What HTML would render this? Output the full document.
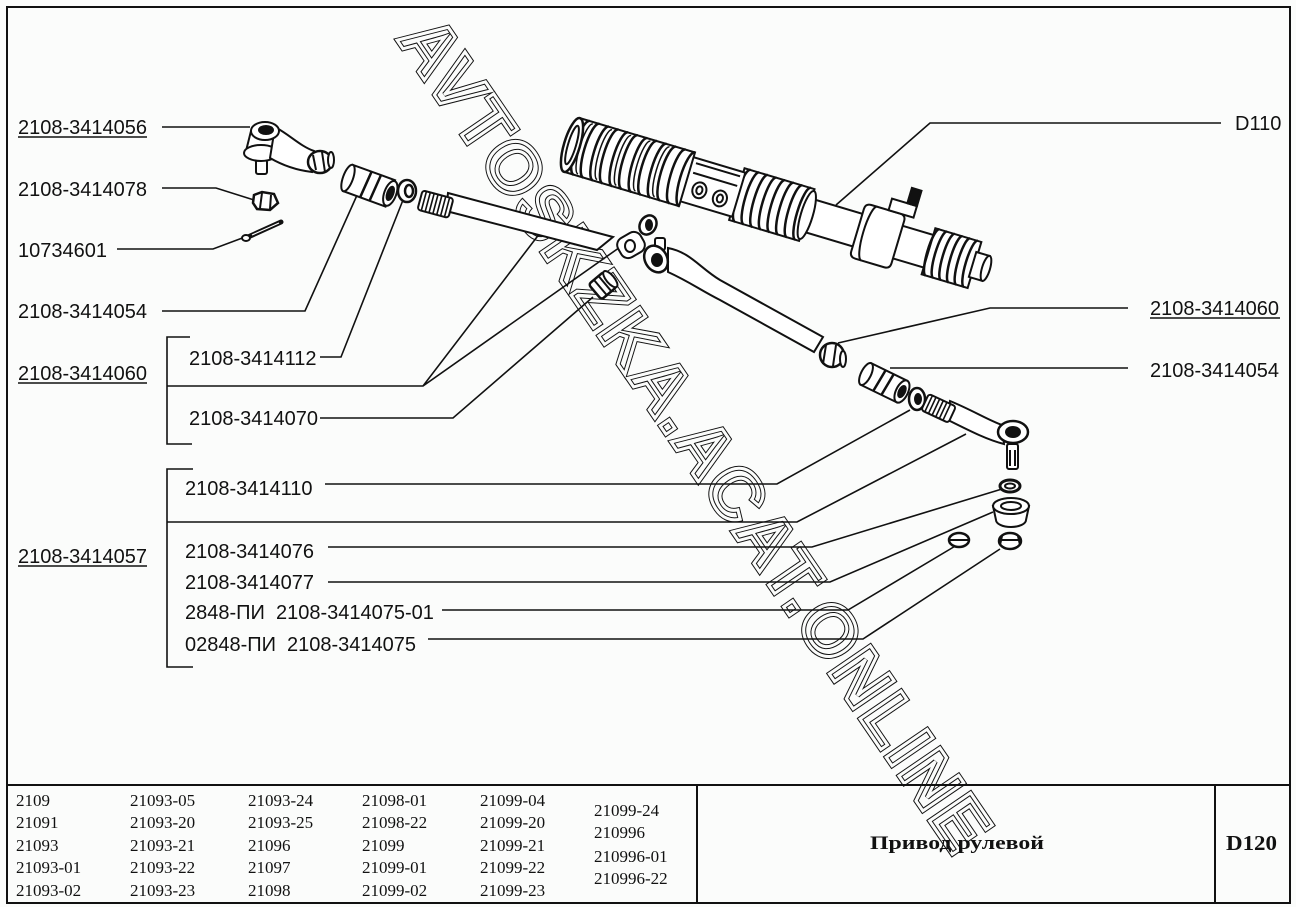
<!DOCTYPE html>
<html><head><meta charset="utf-8"><style>
html,body{margin:0;padding:0;background:#fbfcfb;}
svg{display:block}
.l{font-family:"Liberation Sans",Arial,sans-serif;font-size:20px;fill:#111}
.t{font-family:"Liberation Serif","Times New Roman",serif;font-size:17px;fill:#111}
.b{font-family:"Liberation Serif","Times New Roman",serif;font-weight:bold;fill:#111}
</style></head><body>
<svg width="1296" height="907" viewBox="0 0 1296 907" xmlns="http://www.w3.org/2000/svg">
<rect width="1296" height="907" fill="#fbfcfb"/>

<!-- watermark -->
<g transform="translate(696.5,433) rotate(55.7)" font-family="Liberation Sans, Arial, sans-serif" font-weight="bold" font-size="72">
  <text x="0" y="26" text-anchor="middle" textLength="990" lengthAdjust="spacing" fill="none" stroke="#111" stroke-width="5" stroke-linejoin="miter">AVTOSKZKA.ACAT.ONLINE</text>
  <text x="0" y="26" text-anchor="middle" textLength="990" lengthAdjust="spacing" fill="none" stroke="#fbfcfb" stroke-width="3" stroke-linejoin="miter">AVTOSKZKA.ACAT.ONLINE</text>
</g>

<!-- frame -->
<g stroke="#111" fill="none" stroke-width="2">
  <rect x="7" y="7" width="1283" height="896"/>
  <path d="M7,785 H1290 M697,785 V903 M1215,785 V903"/>
</g>

<!-- leader lines -->
<g stroke="#111" fill="none" stroke-width="1.6">
  <path d="M162,127 H250"/>
  <path d="M162,188 H216 L254,200"/>
  <path d="M117,249 H213 L245,237"/>
  <path d="M162,311 H305 L358,193"/>
  <path d="M190,337 H167 V444 H192"/>
  <path d="M167,386 H423 L540,233 M423,386 L623,245"/>
  <path d="M320,357 H341 L403,200"/>
  <path d="M320,418 H453 L593,297"/>
  <path d="M193,469 H167 V667 H193"/>
  <path d="M325,484 H777 L910,410"/>
  <path d="M167,522 H797 L966,434"/>
  <path d="M328,547 H812 L1002,489"/>
  <path d="M328,582 H830 L993,512"/>
  <path d="M442,610 H848 L957,545"/>
  <path d="M428,639 H863 L1000,549"/>
  <path d="M1221,123 H930 L836,205"/>
  <path d="M1128,308 H990 L838,343"/>
  <path d="M1128,368 H890"/>
</g>

<!-- steering rack -->
<g transform="translate(572,145) rotate(16.6)" stroke="#111" stroke-width="2" fill="#fff">
  <rect x="240" y="-17" width="135" height="34"/>
  <!-- end boot -->
  <rect x="372" y="-24" width="48" height="48"/>
  <path fill="none" stroke-width="2.5" d="M376,-24 A5,24 0 0 0 376,24 M384,-24 A5,24 0 0 0 384,24 M392,-24 A5,24 0 0 0 392,24 M400,-24 A5,24 0 0 0 400,24 M408,-24 A5,24 0 0 0 408,24 M416,-24 A5,24 0 0 0 416,24"/>
  <rect x="418" y="-13" width="14" height="26"/>
  <ellipse cx="432" cy="0" rx="4" ry="13"/>
  <!-- clamp -->
  <path d="M298,-22 Q298,-28 304,-28 L334,-28 Q340,-28 340,-22 L340,22 Q340,28 334,28 L304,28 Q298,28 298,22 Z"/>
  <path fill="none" d="M310,-28 A6,28 0 0 0 310,28"/>
  <rect x="322" y="-40" width="26" height="12"/>
  <rect x="338" y="-56" width="10" height="16" fill="#111"/>
  <!-- right boot -->
  <rect x="172" y="-27" width="73" height="54"/>
  <path fill="none" stroke-width="2.5" d="M178,-27 A6,27 0 0 0 178,27 M187,-27 A6,27 0 0 0 187,27 M196,-27 A6,27 0 0 0 196,27 M205,-27 A6,27 0 0 0 205,27 M214,-27 A6,27 0 0 0 214,27 M223,-27 A6,27 0 0 0 223,27 M232,-27 A6,27 0 0 0 232,27 M241,-27 A6,27 0 0 0 241,27"/>
  <ellipse cx="245" cy="0" rx="6" ry="25"/>
  <!-- housing -->
  <rect x="118" y="-23" width="56" height="46"/>
  <path fill="none" d="M124,-18 L170,-18 M124,-8 L170,-8"/>
  <ellipse cx="135" cy="7" rx="7" ry="8"/>
  <ellipse cx="135" cy="7" rx="3" ry="4"/>
  <ellipse cx="157" cy="9" rx="7" ry="8"/>
  <ellipse cx="157" cy="9" rx="3" ry="4"/>
  <!-- left boot -->
  <rect x="0" y="-28" width="120" height="56"/>
  <path fill="none" stroke-width="2.5" d="M10,-28 A7,28 0 0 0 10,28 M20,-28 A7,28 0 0 0 20,28 M30,-28 A7,28 0 0 0 30,28 M40,-28 A7,28 0 0 0 40,28 M50,-28 A7,28 0 0 0 50,28 M60,-28 A7,28 0 0 0 60,28 M70,-28 A7,28 0 0 0 70,28 M80,-28 A7,28 0 0 0 80,28 M90,-28 A7,28 0 0 0 90,28 M100,-28 A7,28 0 0 0 100,28 M110,-28 A7,28 0 0 0 110,28 M120,-28 A7,28 0 0 0 120,28"/>
  <path fill="none" stroke-width="1.5" d="M14,-26 A6,26 0 0 0 14,26 M34,-26 A6,26 0 0 0 34,26 M54,-26 A6,26 0 0 0 54,26 M74,-26 A6,26 0 0 0 74,26 M94,-26 A6,26 0 0 0 94,26"/>
  <ellipse cx="0" cy="0" rx="8" ry="28" stroke-width="2.5"/>
  <ellipse cx="0" cy="0" rx="4" ry="20"/>
</g>

<!-- left outer ball joint -->
<g stroke="#111" stroke-width="2" fill="#fff">
  <rect x="256" y="160" width="11" height="14" rx="2"/>
  <path d="M251,131 L246,151 L276,154 L279,131 Z"/>
  <ellipse cx="261" cy="153" rx="17" ry="8"/>
  <path d="M275,127 C290,135 300,146 314,151 L312,172 C295,170 282,165 270,158 Z"/>
  <ellipse cx="320" cy="162" rx="12" ry="11" stroke-width="2.5"/>
  <path fill="none" d="M313,155 L316,170 M322,152 L325,172"/>
  <ellipse cx="331" cy="160" rx="3" ry="8"/>
  <ellipse cx="265" cy="131" rx="14" ry="9"/>
  <ellipse cx="266" cy="130" rx="7" ry="4" fill="#111"/>
  <!-- nut 078 -->
  <polygon points="254,195 262,192 274,194 278,203 270,210 257,209 253,203" stroke-width="2.5"/>
  <path fill="none" d="M262,193 L260,208 M271,195 L270,209"/>
  <!-- cotter pin -->
  <path d="M248,237 L281,222" stroke-width="5" stroke-linecap="round" fill="none"/>
  <path d="M252,235 L279,223" stroke="#fff" stroke-width="1.2" fill="none"/>
  <ellipse cx="246" cy="238" rx="4" ry="3"/>
  <!-- sleeve 054 left -->
  <g transform="translate(348,178) rotate(20)">
    <rect x="0" y="-14" width="45" height="28"/>
    <ellipse cx="0" cy="0" rx="5" ry="14"/>
    <path fill="none" stroke-width="2.5" d="M20,-14 L18,14 M30,-14 L28,14"/>
    <ellipse cx="45" cy="0" rx="6" ry="13"/>
    <ellipse cx="45" cy="0" rx="3" ry="7" fill="#111"/>
  </g>
  <!-- nut 112 -->
  <ellipse cx="407" cy="191" rx="9" ry="11" stroke-width="2.5"/>
  <ellipse cx="409" cy="191" rx="4" ry="6" stroke-width="2.5"/>
  <!-- inner tie rod -->
  <path d="M448,193 L613,237 L597,250 L446,211 Z"/>
  <g transform="translate(420,200) rotate(15)">
    <rect x="0" y="-10" width="32" height="20" rx="3"/>
    <path fill="none" stroke-width="1.6" d="M4,-10 V10 M8,-10 V10 M12,-10 V10 M16,-10 V10 M20,-10 V10 M24,-10 V10 M28,-10 V10"/>
  </g>
  <!-- small parts near rack -->
  <ellipse cx="648" cy="225" rx="8" ry="10" stroke-width="2.5" transform="rotate(30 648 225)"/>
  <ellipse cx="649" cy="225" rx="3" ry="5" fill="#111"/>
  <rect x="618" y="234" width="26" height="22" rx="8" transform="rotate(-30 631 245)"/>
  <ellipse cx="630" cy="246" rx="5" ry="6"/>
  <g transform="translate(595,292) rotate(-40)">
    <rect x="0" y="-10" width="20" height="20" rx="3" stroke-width="2.5"/>
    <path fill="none" d="M7,-10 V10 M13,-10 V10"/>
    <ellipse cx="20" cy="0" rx="4" ry="10"/>
  </g>
  <!-- right tie rod -->
  <path d="M668,248 C690,252 700,268 720,280 L823,337 L814,352 L720,300 C700,290 690,282 668,272 Z"/>
  <rect x="655" y="238" width="10" height="12" rx="2"/>
  <ellipse cx="656" cy="259" rx="11" ry="14" transform="rotate(-30 656 259)" stroke-width="2.5"/>
  <ellipse cx="657" cy="260" rx="5" ry="6" fill="#111"/>
  <ellipse cx="832" cy="355" rx="12" ry="12" stroke-width="2.5"/>
  <path fill="none" d="M826,345 L823,364 M836,345 L833,366"/>
  <ellipse cx="843" cy="359" rx="3" ry="8"/>
  <!-- sleeve 054 right -->
  <g transform="translate(866,374) rotate(26)">
    <rect x="0" y="-12" width="40" height="24"/>
    <ellipse cx="0" cy="0" rx="5" ry="12"/>
    <path fill="none" stroke-width="2.5" d="M16,-12 L14,12 M25,-12 L23,12"/>
    <ellipse cx="40" cy="0" rx="6" ry="12"/>
    <ellipse cx="40" cy="0" rx="3" ry="6" fill="#111"/>
  </g>
  <ellipse cx="917" cy="399" rx="8" ry="11" stroke-width="2.5"/>
  <ellipse cx="918" cy="399" rx="3" ry="5" fill="#111"/>
  <path d="M950,401 C972,410 988,420 1002,425 L1004,444 C988,440 972,432 948,420 Z"/>
  <g transform="translate(925,402) rotate(25)">
    <rect x="0" y="-9" width="30" height="18" rx="3"/>
    <path fill="none" stroke-width="1.6" d="M4,-9 V9 M8,-9 V9 M12,-9 V9 M16,-9 V9 M20,-9 V9 M24,-9 V9"/>
  </g>
  <rect x="1007" y="444" width="11" height="25" rx="2"/>
  <path fill="none" d="M1010,450 V466 M1015,450 V466"/>
  <ellipse cx="1013" cy="432" rx="15" ry="11" stroke-width="2.5"/>
  <ellipse cx="1013" cy="432" rx="7" ry="5" fill="#111"/>
  <!-- washers / nuts -->
  <ellipse cx="1010" cy="486" rx="10" ry="6" stroke-width="3"/>
  <ellipse cx="1010" cy="486" rx="5" ry="2.5"/>
  <path d="M993,506 L996,520 A15,7 0 0 0 1026,520 L1029,506 Z"/>
  <ellipse cx="1011" cy="506" rx="18" ry="8"/>
  <ellipse cx="1011" cy="506" rx="10" ry="4"/>
  <ellipse cx="959" cy="540" rx="10" ry="7" stroke-width="2.5"/>
  <path fill="none" d="M950,540 H968"/>
  <ellipse cx="1010" cy="541" rx="11" ry="8" stroke-width="2.5"/>
  <path fill="none" d="M1002,536 L1000,545 M1018,536 L1020,545 M1001,540 H1019"/>
</g>

<!-- labels -->
<g class="l">
  <text x="18" y="134">2108-3414056</text>
  <text x="18" y="196">2108-3414078</text>
  <text x="18" y="257">10734601</text>
  <text x="18" y="318">2108-3414054</text>
  <text x="18" y="380">2108-3414060</text>
  <text x="189" y="365">2108-3414112</text>
  <text x="189" y="425">2108-3414070</text>
  <text x="185" y="495">2108-3414110</text>
  <text x="18" y="563">2108-3414057</text>
  <text x="185" y="558">2108-3414076</text>
  <text x="185" y="589">2108-3414077</text>
  <text x="185" y="619">2848-ПИ</text>
  <text x="276" y="619">2108-3414075-01</text>
  <text x="185" y="651">02848-ПИ</text>
  <text x="287" y="651">2108-3414075</text>
  <text x="1235" y="130">D110</text>
  <text x="1150" y="315">2108-3414060</text>
  <text x="1150" y="377">2108-3414054</text>
</g>
<g stroke="#111" stroke-width="1.5">
  <path d="M18,137 H147 M18,383 H147 M18,566 H147 M1150,318 H1280"/>
</g>

<!-- table -->
<g class="t">
  <text x="16" y="806">2109</text>
  <text x="16" y="828">21091</text>
  <text x="16" y="851">21093</text>
  <text x="16" y="873">21093-01</text>
  <text x="16" y="896">21093-02</text>
  <text x="130" y="806">21093-05</text>
  <text x="130" y="828">21093-20</text>
  <text x="130" y="851">21093-21</text>
  <text x="130" y="873">21093-22</text>
  <text x="130" y="896">21093-23</text>
  <text x="248" y="806">21093-24</text>
  <text x="248" y="828">21093-25</text>
  <text x="248" y="851">21096</text>
  <text x="248" y="873">21097</text>
  <text x="248" y="896">21098</text>
  <text x="362" y="806">21098-01</text>
  <text x="362" y="828">21098-22</text>
  <text x="362" y="851">21099</text>
  <text x="362" y="873">21099-01</text>
  <text x="362" y="896">21099-02</text>
  <text x="480" y="806">21099-04</text>
  <text x="480" y="828">21099-20</text>
  <text x="480" y="851">21099-21</text>
  <text x="480" y="873">21099-22</text>
  <text x="480" y="896">21099-23</text>
  <text x="594" y="816">21099-24</text>
  <text x="594" y="838">210996</text>
  <text x="594" y="862">210996-01</text>
  <text x="594" y="884">210996-22</text>
</g>
<text class="b" x="870" y="849" font-size="19" textLength="174" lengthAdjust="spacingAndGlyphs">Привод рулевой</text>
<text class="b" x="1226" y="850" font-size="21" textLength="51" lengthAdjust="spacingAndGlyphs">D120</text>
</svg>
</body></html>
